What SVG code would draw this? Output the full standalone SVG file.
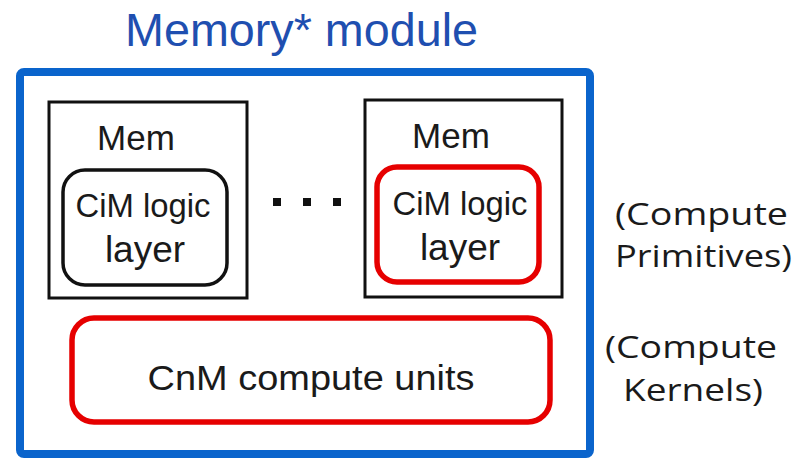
<svg xmlns="http://www.w3.org/2000/svg" width="796" height="458" viewBox="0 0 796 458">
  <style>
    .title { font-family: "Liberation Sans", Arial, sans-serif; font-size: 46px; fill: #1f4fb0; }
    .lbl { font-family: "Liberation Sans", Arial, sans-serif; fill: #1a1a1a; text-anchor: middle; }
    .side { font-family: "Open Sans", "Noto Sans", sans-serif; font-size: 31px; fill: #1a1a1a; }
    .mem { fill: #ffffff; stroke: #111111; stroke-width: 3; }
    .logic { fill: #ffffff; stroke: #111111; stroke-width: 3.5; }
    .hot { fill: #ffffff; stroke: #e60000; stroke-width: 5.5; }
  </style>

  <rect width="796" height="458" fill="#ffffff"/>

  <g id="module">
    <text class="title" x="125" y="46" textLength="353" lengthAdjust="spacingAndGlyphs">Memory* module</text>
    <rect x="20" y="72" width="570" height="382" rx="4" fill="none" stroke="#0a64cc" stroke-width="8"/>
  </g>

  <g id="mem-left">
    <rect class="mem" x="49" y="102" width="198" height="196"/>
    <text class="lbl" x="136" y="150" font-size="35">Mem</text>
  </g>
  <g id="cim-left">
    <rect class="logic" x="63" y="170" width="164" height="115" rx="22"/>
    <text class="lbl" x="143" y="217" font-size="33" textLength="135" lengthAdjust="spacingAndGlyphs">CiM logic</text>
    <text class="lbl" x="145" y="262" font-size="37">layer</text>
  </g>

  <g id="ellipsis" fill="#111111">
    <rect x="273" y="198" width="8" height="8"/>
    <rect x="303" y="198" width="8" height="8"/>
    <rect x="333" y="198" width="8" height="8"/>
  </g>

  <g id="mem-right">
    <rect class="mem" x="365" y="100" width="197" height="197"/>
    <text class="lbl" x="451" y="148" font-size="35">Mem</text>
  </g>
  <g id="cim-right">
    <rect class="hot" x="377" y="167" width="162" height="115" rx="20"/>
    <text class="lbl" x="460" y="215" font-size="33" textLength="135" lengthAdjust="spacingAndGlyphs">CiM logic</text>
    <text class="lbl" x="460" y="260" font-size="37">layer</text>
  </g>

  <g id="cnm">
    <rect class="hot" x="72" y="318" width="478" height="104" rx="22"/>
    <text class="lbl" x="311" y="390" font-size="35" textLength="327" lengthAdjust="spacingAndGlyphs">CnM compute units</text>
  </g>

  <g id="primitives-note">
    <text class="side" x="615" y="225" textLength="173" lengthAdjust="spacingAndGlyphs">(Compute</text>
    <text class="side" x="615" y="267" textLength="177" lengthAdjust="spacingAndGlyphs">Primitives)</text>
  </g>
  <g id="kernels-note">
    <text class="side" x="605" y="358" textLength="172" lengthAdjust="spacingAndGlyphs">(Compute</text>
    <text class="side" x="623" y="401" textLength="140" lengthAdjust="spacingAndGlyphs">Kernels)</text>
  </g>

  <g id="connectors"/>
</svg>
